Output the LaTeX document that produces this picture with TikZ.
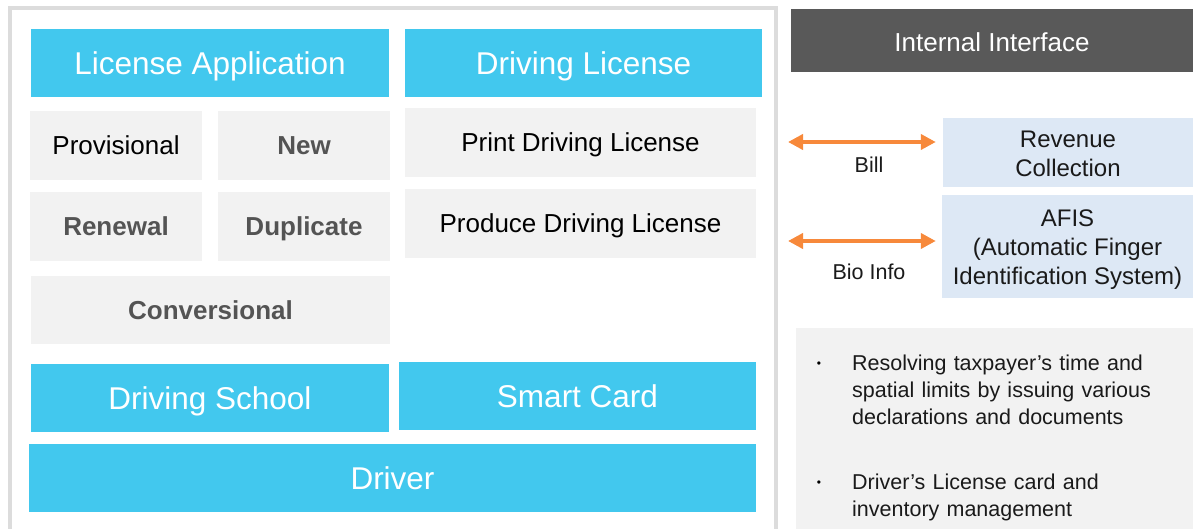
\documentclass[tikz,border=0pt]{standalone}
\usepackage{fontspec}
\setmainfont{Liberation Sans}
\usetikzlibrary{arrows.meta}
\definecolor{cyanbox}{HTML}{42C8EE}
\definecolor{greybox}{HTML}{F2F2F2}
\definecolor{framegrey}{HTML}{DCDCDC}
\definecolor{darkhead}{HTML}{595959}
\definecolor{boldgrey}{HTML}{545454}
\definecolor{lightblue}{HTML}{DDE8F5}
\definecolor{orarrow}{HTML}{F7893B}
\definecolor{txt}{HTML}{1A1A1A}
\newcommand\fsBig{\fontsize{31.5}{36}\selectfont}
\newcommand\fsMid{\fontsize{26}{30}\selectfont}
\newcommand\fsRev{\fontsize{24}{29}\selectfont}
\newcommand\fsSm{\fontsize{21.5}{27}\selectfont}
\tikzset{
  cbox/.style={fill=cyanbox, text=white, inner sep=0pt, font=\fsBig, text height=22.6pt, text depth=0pt},
  gbox/.style={fill=greybox, text=black, inner sep=0pt, font=\fsMid, text height=18.6pt, text depth=0pt},
  gboxb/.style={fill=greybox, text=boldgrey, inner sep=0pt, font=\fsMid\bfseries, text height=18.6pt, text depth=0pt},
  ibox/.style={fill=lightblue, inner sep=0pt},
  itxt/.style={text=txt, inner sep=0pt, font=\fsRev, align=center},
  lbl/.style={text=txt, inner sep=0pt, font=\fsSm},
  twoway/.style={draw=orarrow, line width=4pt, {Triangle[length=15pt,width=15pt]}-{Triangle[length=15pt,width=15pt]}},
  bul/.style={text=black, inner sep=0pt, font=\fontsize{12}{12}\selectfont},
  btxt/.style={text=txt, inner sep=0pt, font=\fsSm, text width=330pt, align=left}
}
\begin{document}
\begin{tikzpicture}[x=1pt,y=-1pt]
\useasboundingbox (0,0) rectangle (1193,529);
\begin{scope}
\clip (0,0) rectangle (1193,529);
\draw[framegrey, line width=4pt] (10,8) rectangle (776,560);
\fill[greybox] (796,328) rectangle (1193,540);
\end{scope}
% left panel
\node[cbox, minimum width=358pt, minimum height=68pt] (la) at (210,63) {License Application};
\node[cbox, minimum width=357pt, minimum height=68pt] (dl) at (583.5,63) {Driving License};
\node[gbox, minimum width=172pt, minimum height=69pt] (prov) at (116,145.5) {Provisional};
\node[gboxb, minimum width=172pt, minimum height=69pt] (new) at (304,145.5) {New};
\node[gboxb, minimum width=172pt, minimum height=69pt] (ren) at (116,226.5) {Renewal};
\node[gboxb, minimum width=172pt, minimum height=69pt] (dup) at (304,226.5) {Duplicate};
\node[gboxb, minimum width=359pt, minimum height=68pt] (conv) at (210.5,310) {Conversional};
\node[gbox, minimum width=351pt, minimum height=69pt] (print) at (580.5,142.5) {Print Driving License};
\node[gbox, minimum width=351pt, minimum height=69pt] (prod) at (580.5,223.5) {Produce Driving License};
\node[cbox, minimum width=358pt, minimum height=68pt] (ds) at (210,398) {Driving School};
\node[cbox, minimum width=357pt, minimum height=68pt] (sc) at (577.5,396) {Smart Card};
\node[cbox, minimum width=727pt, minimum height=68pt] (drv) at (392.5,478) {Driver};
% right panel
\node[fill=darkhead, text=white, inner sep=0pt, font=\fsMid, text height=21.6pt, text depth=0pt, minimum width=402pt, minimum height=63pt] (ii) at (992,40.5) {Internal Interface};
\node[ibox, minimum width=250pt, minimum height=69pt,
      label={[itxt, yshift=-1.5pt]center:{Revenue\\Collection}}] (rev) at (1068,152.5) {};
\node[ibox, minimum width=251pt, minimum height=103pt,
      label={[itxt, yshift=-3pt]center:{AFIS\\(Automatic Finger\\Identification System)}}] (afis) at (1067.5,246.5) {};
\coordinate (billL) at (788,142);
\coordinate (bioL) at (788,241);
\draw[twoway, shorten >=7pt] (billL) -- (billL -| rev.west);
\draw[twoway, shorten >=6pt] (bioL) -- (bioL -| afis.west);
\node[lbl] (bill) at (869,165) {Bill};
\node[lbl] (bio) at (869,272) {Bio Info};
% bullets
\node[bul, anchor=base] (b1) at (819,367) {•};
\node[btxt, anchor=base west] (t1) at (852,370) {Resolving taxpayer’s time and\\spatial limits by issuing various\\declarations and documents};
\node[bul, anchor=base] (b2) at (819,486) {•};
\node[btxt, anchor=base west] (t2) at (852,489) {Driver’s License card and\\inventory management};
\end{tikzpicture}
\end{document}
